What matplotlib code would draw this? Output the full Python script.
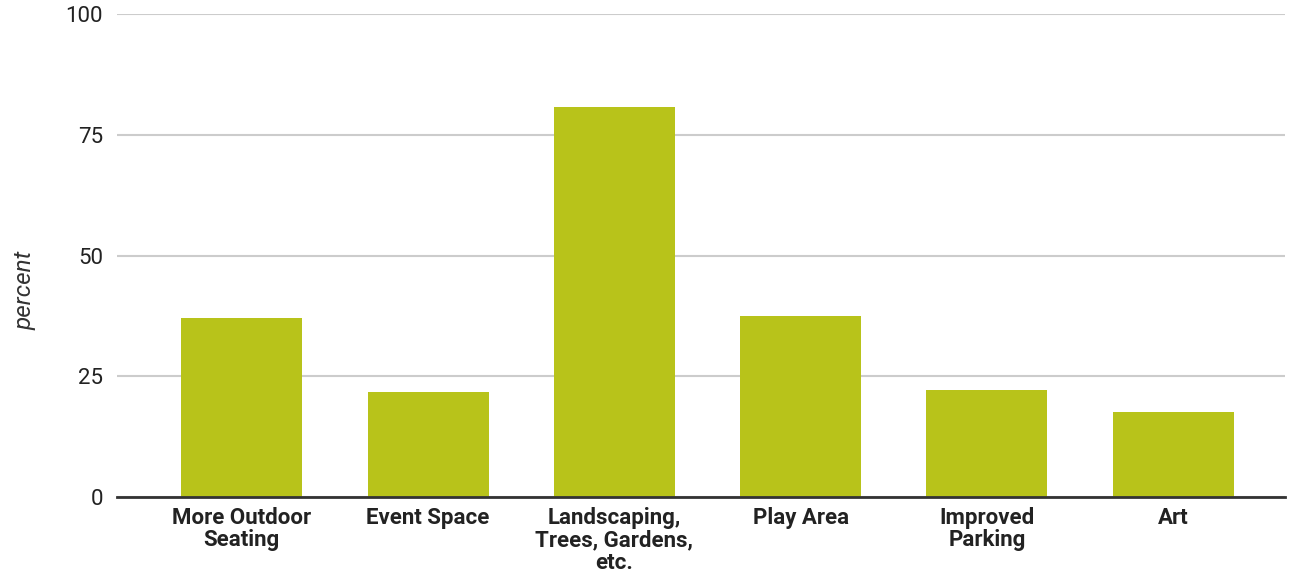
import matplotlib
matplotlib.use("Agg")
import matplotlib.pyplot as plt

categories = ["More Outdoor\nSeating", "Event Space", "Landscaping,\nTrees, Gardens,\netc.",
              "Play Area", "Improved\nParking", "Art"]
values = [37.1, 21.8, 80.8, 37.5, 22.2, 17.5]
yticks = [0, 25, 50, 75, 100]

plt.rcParams['font.family'] = ['Roboto', 'DejaVu Sans']

fig = plt.figure(figsize=(13.03, 5.75), dpi=100)
ax = fig.add_axes([117/1303, 1 - 497/575, (1285 - 117)/1303, (497 - 14)/575])

x = list(range(len(categories)))
ax.bar(x, values, width=0.65, color="#b8c31a", zorder=3)

ax.set_ylim(0, 100)
ax.set_xlim(-0.67, 5.6)
ax.set_yticks(yticks)
ax.set_yticklabels([str(t) for t in yticks], fontsize=16, color="#222222")
ax.set_xticks(x)
ax.set_xticklabels(categories, fontsize=16, fontweight="bold", color="#222222", linespacing=1.04)
ax.tick_params(axis="y", length=0, pad=10)
ax.tick_params(axis="x", length=0, pad=7)

ax.grid(axis="y", color="#cccccc", linewidth=1.5, zorder=0)
for s in ["top", "right", "left"]:
    ax.spines[s].set_visible(False)
ax.spines["bottom"].set_color("#333333")
ax.spines["bottom"].set_linewidth(2)
ax.spines["bottom"].set_zorder(4)

fig.text(25/1303, 1 - 290/575, "percent", rotation=90, fontsize=17.5, style="italic",
         color="#333333", ha="center", va="center")

fig.savefig("out.png", dpi=100, facecolor="white")
